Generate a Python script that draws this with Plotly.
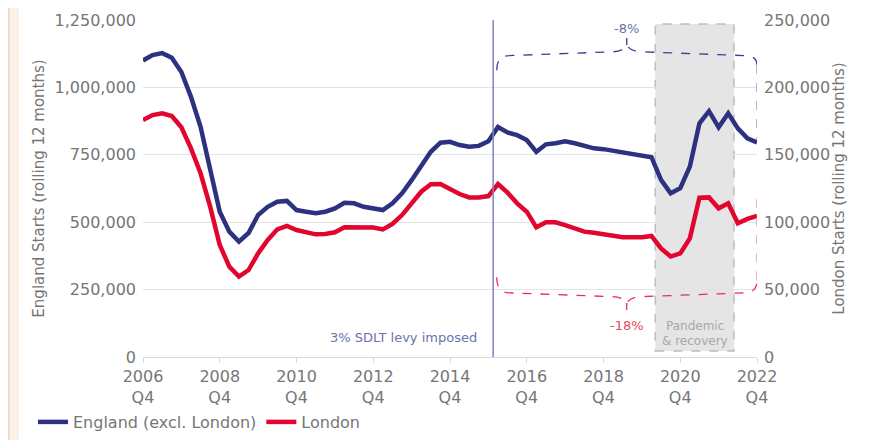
import plotly.graph_objects as go

# Quarterly, rolling 12 months, 2006 Q4 .. 2022 Q4
QUARTERS = [f"{y} Q{q}" for y in range(2006, 2023) for q in range(1, 5)][3:]

ENGLAND = [
    1100000, 1120000, 1127000, 1110000, 1057000, 965000, 854000, 690000,
    539000, 465000, 428000, 460000, 527000, 557000, 576000, 579000,
    545000, 539000, 533000, 539000, 551000, 572000, 570000, 557000,
    553000, 545000, 570000, 607000, 656000, 712000, 761000, 795000,
    798000, 786000, 780000, 783000, 800000, 853000, 833000, 823000,
    805000, 761000, 789000, 793000, 800000, 793000, 784000, 774000,
    771000, 765000, 759000, 753000, 747000, 741000, 657000, 607000,
    626000, 706000, 867000, 912000, 852000, 904000, 848000, 811000,
    796000,
]

LONDON = [
    175800, 179500, 180800, 178800, 170400, 154800, 136300, 111500,
    83100, 67000, 59600, 64500, 76900, 86800, 94700, 97200,
    94200, 93000, 91000, 91200, 92500, 96200, 96200, 95700,
    96000, 94700, 98700, 105300, 114000, 122600, 128100, 128300,
    124600, 120900, 118400, 118400, 119400, 128300, 121900, 114000,
    107800, 96200, 99900, 99900, 97900, 95500, 93000, 92200,
    91200, 89800, 88800, 88800, 88800, 89800, 80600, 74500,
    76900, 88000, 118200, 118400, 110300, 114000, 99200, 102400,
    104600,
]

TICK_IDX = list(range(0, 65, 8))
TICK_TEXT = [f"{QUARTERS[i][:4]}<br>Q4" for i in TICK_IDX]

NAVY = "#2c3180"
RED = "#e2062f"
GREY_TXT = "#767676"
FONT = "DejaVu Sans"

x = list(range(len(QUARTERS)))

fig = go.Figure()
fig.add_trace(go.Scatter(
    x=x, y=ENGLAND, name="England (excl. London)", mode="lines",
    line=dict(color=NAVY, width=4.5), text=QUARTERS,
))
fig.add_trace(go.Scatter(
    x=x, y=LONDON, name="London", mode="lines", yaxis="y2",
    line=dict(color=RED, width=4.5), text=QUARTERS,
))

# the page body has an 8px margin, so the figure sits at (8, 8) in the window
OFF = 8
PL, PR, PT, PB = 143, 757, 20, 357   # plot area in window pixels
W, H = 881 - OFF, 440 - OFF
L, T = PL - OFF, PT - OFF
R, B = W - L - (PR - PL), H - T - (PB - PT)
pw, ph = PR - PL, PB - PT


def px(v):
    return (v - PL) / pw


def py(v):
    return (PB - v) / ph


shapes = []
beige = "#fcf1e6"
shapes.append(dict(type="rect", xref="paper", yref="paper", x0=px(OFF), x1=px(19),
                   y0=py(440), y1=py(OFF), fillcolor=beige, line_width=0, layer="below"))
shapes.append(dict(type="line", xref="paper", yref="paper", x0=px(OFF + 0.8), x1=px(OFF + 0.8),
                   y0=py(440), y1=py(OFF), line=dict(color="#e4dad0", width=1.6), layer="below"))
shapes.append(dict(type="rect", xref="paper", yref="paper", x0=px(873), x1=px(881),
                   y0=py(440), y1=py(OFF), fillcolor=beige, line_width=0, layer="below"))

# pandemic shading
shapes.append(dict(type="rect", xref="x", yref="paper", x0=53.4, x1=61.6, y0=0.018, y1=0.988,
                   fillcolor="#e5e5e5", line=dict(color="#bdbdbd", width=1.5, dash="dash"),
                   layer="below"))

# SDLT levy line
shapes.append(dict(type="line", xref="x", yref="paper", x0=36.5, x1=36.5, y0=0, y1=1,
                   line=dict(color="#7f82c4", width=1.5)))


def brace(x0, x1, xm, y_end, y_h, y_near, y_tip, y_r, dx, dt):
    # curly brace: rounded ends, slight slope towards a pointed tip at xm
    p = f"M {x0},{y_end} Q {x0},{y_h} {x0 + dx},{y_h} "
    p += f"L {xm - dt},{y_near} Q {xm - dt * 0.25},{y_near} {xm},{y_tip} "
    p += f"Q {xm + dt * 0.25},{y_near} {xm + dt},{y_near} L {x1 - dx},{y_h} "
    p += f"Q {x1},{y_h} {x1},{y_r}"
    return p


BX0, BX1, BXM = 36.87, 64, 50.42

bp = brace(BX0, BX1, BXM, 1064000, 1118000, 1132000, 1157000, 1083000, 1.3, 1.6)
shapes.append(dict(type="path", xref="x", yref="y", path=bp,
                   line=dict(color="#3a4090", width=1.3, dash="dash")))
shapes.append(dict(type="line", xref="x", yref="y", x0=BXM, x1=BXM, y0=1157000, y1=1183000,
                   line=dict(color="#3a4090", width=1.3)))
shapes.append(dict(type="line", xref="x", yref="y", x0=BX1, x1=BX1, y0=1083000, y1=805000,
                   line=dict(color="#8c90c4", width=1.3, dash="dash")))

rp = brace(BX0, BX1, BXM, 296000, 238000, 224000, 200000, 285000, 1.3, 1.6)
shapes.append(dict(type="path", xref="x", yref="y", path=rp,
                   line=dict(color="#e5304f", width=1.3, dash="dash")))
shapes.append(dict(type="line", xref="x", yref="y", x0=BXM, x1=BXM, y0=200000, y1=174000,
                   line=dict(color="#e5304f", width=1.3)))
shapes.append(dict(type="line", xref="x", yref="y", x0=BX1, x1=BX1, y0=285000, y1=612000,
                   line=dict(color="#ef8597", width=1.3, dash="dash")))


def note(xv, ypx, text, color, size=13, xanchor="center"):
    return dict(x=xv, y=py(ypx), xref="x", yref="paper", text=text, showarrow=False,
                xanchor=xanchor, yanchor="middle", font=dict(color=color, size=size))


annotations = [
    note(BXM, 28, "-8%", "#6d71ad"),
    note(BXM, 325, "-18%", "#e5475f"),
    note(35.0, 337, "3% SDLT levy imposed", "#6d71b0", xanchor="right"),
    note(57.5, 326, "Pandemic", "#a8a8a8", size=12),
    note(57.5, 341, "&amp; recovery", "#a8a8a8", size=12),
]

fig.update_layout(
    width=W, height=H, autosize=False,
    margin=dict(l=L, r=R, t=T, b=B, autoexpand=False),
    paper_bgcolor="white", plot_bgcolor="white",
    font=dict(family=FONT, color=GREY_TXT, size=16),
    shapes=shapes, annotations=annotations,
    showlegend=True,
    legend=dict(orientation="h", x=px(33), y=py(422), xanchor="left", yanchor="middle",
                font=dict(size=16, color=GREY_TXT), bgcolor="rgba(0,0,0,0)"),
    xaxis=dict(range=[0, 64], tickvals=TICK_IDX, ticktext=TICK_TEXT, showgrid=False,
               zeroline=False, showline=True, linecolor="#d9d9d9", linewidth=1,
               ticks="outside", ticklen=5, tickcolor="#d9d9d9",
               tickfont=dict(size=16, color=GREY_TXT)),
    yaxis=dict(range=[0, 1250000], dtick=250000, tickformat=",", showgrid=True,
               gridcolor="#e3e3e3", zeroline=False, ticklabelstandoff=6,
               title=dict(text="England Starts (rolling 12 months)", standoff=6,
                          font=dict(size=15, color=GREY_TXT))),
    yaxis2=dict(range=[0, 250000], dtick=50000, tickformat=",", overlaying="y", side="right",
                showgrid=False, zeroline=False, ticklabelstandoff=6,
                title=dict(text="London Starts (rolling 12 months)", standoff=4,
                           font=dict(size=15, color=GREY_TXT))),
)

fig.write_html("out.html")
